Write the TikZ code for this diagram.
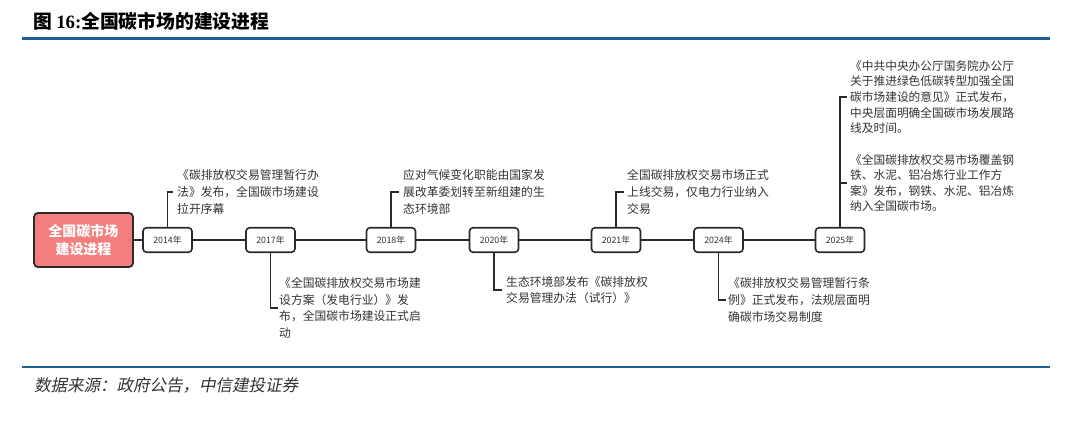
\documentclass[tikz,border=0pt]{standalone}
\usepackage{fontspec}
\setmainfont{Noto Sans CJK SC}
\newfontfamily\serifnum{Liberation Serif}
\newfontfamily\footfont[FakeSlant=0.2]{Noto Sans CJK SC}
\definecolor{rulecol}{HTML}{1F5F8E}
\definecolor{txt}{HTML}{333333}
\definecolor{edge}{HTML}{2A2A2A}
\definecolor{mainfill}{HTML}{F47E7E}
\tikzset{
  yearbox/.style={draw=edge, line width=1.6pt, rounded corners=3.5pt, fill=white,
    minimum width=49pt, minimum height=24.5pt, inner sep=0pt, text=txt,
    font=\fontsize{8.8}{10}\selectfont},
  mainbox/.style={draw=edge, line width=1.8pt, rounded corners=4pt, fill=mainfill,
    minimum width=99pt, minimum height=54pt, inner sep=0pt, text=white, align=center,
    font=\fontsize{14}{18.5}\selectfont\bfseries},
  link/.style={draw=edge, line width=1.3pt},
  note/.style={anchor=west, inner sep=0pt, align=left, text=txt,
    font=\fontsize{11.8}{16.6}\selectfont},
  note25/.style={note, font=\fontsize{11.7}{15.6}\selectfont},
}
\begin{document}
\begin{tikzpicture}[x=1pt,y=-1pt]
\useasboundingbox (0,0) rectangle (1080,428);
% title and rules
\node[anchor=west, inner sep=0pt, text=black, font=\fontsize{18.8}{21}\selectfont\bfseries] (title) at (33,21)
  {图 {\serifnum\bfseries 16:}全国碳市场的建设进程};
\draw[rulecol, line width=3pt] (22,39) -- (1050,39);
\draw[rulecol, line width=2.4pt] (22,367) -- (1050,367);
\node[anchor=west, inner sep=0pt, text=txt, font=\fontsize{16.5}{19}\footfont] (src) at (34,385)
  {数据来源：政府公告，中信建投证券};
% main box and years
\node[mainbox] (main) at (83.5,240) {全国碳市场\\建设进程};
\node[yearbox] (y14) at (167.5,240) {2014年};
\node[yearbox] (y17) at (270.5,240) {2017年};
\node[yearbox] (y18) at (391,240) {2018年};
\node[yearbox] (y20) at (494,240) {2020年};
\node[yearbox] (y21) at (616,240) {2021年};
\node[yearbox] (y24) at (718.5,240) {2024年};
\node[yearbox] (y25) at (840,240) {2025年};
\draw[link] (main) -- (y14);
\draw[link] (y14) -- (y17);
\draw[link] (y17) -- (y18);
\draw[link] (y18) -- (y20);
\draw[link] (y20) -- (y21);
\draw[link] (y21) -- (y24);
\draw[link] (y24) -- (y25);
% notes
\node[note] (n14) at (177,192) {《碳排放权交易管理暂行办\\法》发布，全国碳市场建设\\拉开序幕};
\node[note] (n17) at (279,308) {《全国碳排放权交易市场建\\设方案（发电行业）》发\\布，全国碳市场建设正式启\\动};
\node[note] (n18) at (403,192) {应对气候变化职能由国家发\\展改革委划转至新组建的生\\态环境部};
\node[note] (n20) at (506,290) {生态环境部发布《碳排放权\\交易管理办法（试行）》};
\node[note] (n21) at (627,192) {全国碳排放权交易市场正式\\上线交易，仅电力行业纳入\\交易};
\node[note] (n24) at (728,300) {《碳排放权交易管理暂行条\\例》正式发布，法规层面明\\确碳市场交易制度};
\node[note25] (n25a) at (850,97) {《中共中央办公厅国务院办公厅\\关于推进绿色低碳转型加强全国\\碳市场建设的意见》正式发布，\\中央层面明确全国碳市场发展路\\线及时间。};
\node[note25] (n25b) at (850,183) {《全国碳排放权交易市场覆盖钢\\铁、水泥、铝冶炼行业工作方\\案》发布，钢铁、水泥、铝冶炼\\纳入全国碳市场。};
% branches
\draw[link] (y14.north) |- ([xshift=-4pt]n14.west);
\draw[link] (y17.south) |- ([xshift=-1pt]n17.west);
\draw[link] (y18.north) |- ([xshift=-4pt]n18.west);
\draw[link] (y20.south) |- ([xshift=-4pt]n20.west);
\draw[link] (y21.north) |- ([xshift=-3pt]n21.west);
\draw[link] (y24.south) |- ([xshift=-2pt]n24.west);
\draw[link] (y25.north) |- ([xshift=-3pt]n25a.west);
\draw[link] (y25.north |- n25b.west) -- ([xshift=-3pt]n25b.west);
\end{tikzpicture}
\end{document}
